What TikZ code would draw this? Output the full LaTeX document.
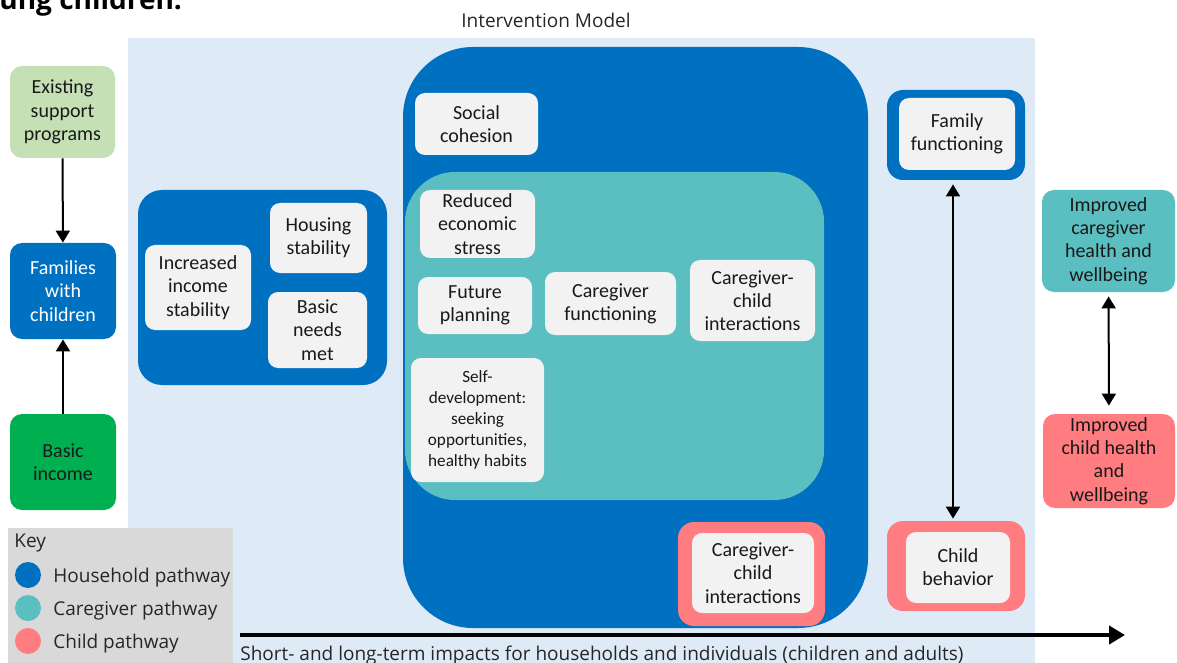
\documentclass[tikz,border=0pt]{standalone}
\usepackage{fontspec}
\setmainfont{Carlito}
\newfontfamily\uifont{Open Sans}
\usetikzlibrary{positioning,arrows.meta}

\definecolor{hhblue}{HTML}{0070C0}
\definecolor{cgteal}{HTML}{5BBEC0}
\definecolor{chpink}{HTML}{FF7C80}
\definecolor{cellgray}{HTML}{F2F2F2}
\definecolor{keygray}{HTML}{D9D9D9}
\definecolor{modelbg}{HTML}{DEEBF7}
\definecolor{palegreen}{HTML}{C5E0B4}
\definecolor{incgreen}{HTML}{00B050}

\begin{document}
\begin{tikzpicture}
		[x=0.5pt,y=-0.5pt,
		every node/.style={inner sep=0pt,align=center},
		% a box given by its left, top, right and bottom edge
		area/.style args={#1,#2,#3,#4}{at={({(#1+#3)/2},{(#2+#4)/2})},
			minimum width={(#3-#1)*0.5pt},minimum height={(#4-#2)*0.5pt}},
		boxtext/.style={text=black!90,font=\fontsize{10}{11.6}\selectfont},
		cell/.style={boxtext,fill=cellgray,rounded corners=5pt},
		small cell/.style={cell,font=\fontsize{8.6}{10.5}\selectfont},
		outcome/.style={boxtext,fill=#1,rounded corners=6pt},
		frame/.style={fill=#1,rounded corners=8pt},
		pathway/.style={fill=hhblue,rounded corners=#1},
		ui/.style={font=\uifont\fontsize{9.5}{11}\selectfont,text=black!85},
		link/.style={line width=1pt,-{Triangle[length=6pt,width=7pt]}},
		twoway/.style={line width=1pt,{Triangle[length=6pt,width=7pt]}-{Triangle[length=6pt,width=7pt]}}]
		\useasboundingbox (0,0) rectangle (1177,663);
		\clip (0,0) rectangle (1177,663);
		% heading cut by the page edge
		\node[anchor=base west,font=\uifont\bfseries\fontsize{14}{16}\selectfont] (head) at (-1,10) {ung children.};
		\fill[modelbg] (128,38) rectangle (1035,663);
		\node[ui] (model) at (546,20) {Intervention Model};
		% inputs on the left
		\node[outcome=palegreen,area={10,66,115,158}] (exist) {Existing\\support\\programs};
		\node[outcome=hhblue,text=white,area={10,243,116,339}] (fam) {Families\\with\\children};
		\node[outcome=incgreen,area={10,414,116,510}] (basic) {Basic\\income};
		\draw[link] (exist) -- (fam);
		\draw[link] (basic) -- (fam);
		% household pathway
		\node[pathway=12pt,area={138,190,387,385}] (hh) {};
		\node[cell,area={145,245,251,330}] (inc) {Increased\\income\\stability};
		\node[cell,area={270,203,367,273}] (hous) {Housing\\stability};
		\node[cell,area={268,292,367,368}] (needs) {Basic\\needs\\met};
		% household, caregiver and child pathways in one block
		\node[pathway=35pt,area={403,47,868,628}] (core) {};
		\node[cell,area={415,93,538,155}] (social) {Social\\cohesion};
		\node[fill=cgteal,rounded corners=25pt,area={405,172,824,500}] (cg) {};
		\node[cell,area={420,190,535,258}] (stress) {Reduced\\economic\\stress};
		\node[cell,area={418,277,532,334}] (future) {Future\\planning};
		\node[cell,area={545,272,676,335}] (cgfun) {Caregiver\\functioning};
		\node[cell,area={690,260,815,341}] (cgint) {Caregiver-\\child\\interactions};
		\node[small cell,area={411,358,544,482}] (selfdev) {Self-\\development:\\seeking\\opportunities,\\healthy habits};
		\node[frame=chpink,area={678,522,825,626}] (cciframe) {};
		\node[cell,area={692,533,814,613}] (cci) {Caregiver-\\child\\interactions};
		% family and child level
		\node[frame=hhblue,area={887,90,1025,180}] (famframe) {};
		\node[cell,area={899,98,1015,170}] (famfun) {Family\\functioning};
		\node[frame=chpink,area={887,521,1025,611}] (behavframe) {};
		\node[cell,area={906,532,1010,603}] (behav) {Child\\behavior};
		\draw[twoway,shorten <=2pt,shorten >=1pt] ([xshift=-1.5pt]famframe.south) -- ([xshift=-1.5pt]behavframe.north);
		% long-term outcomes
		\node[outcome=cgteal,area={1042,190,1175,292}] (impcg) {Improved\\caregiver\\health and\\wellbeing};
		\node[outcome=chpink,area={1043,414,1175,508}] (impch) {Improved\\child health\\and\\wellbeing};
		\draw[twoway,shorten <=2pt,shorten >=4pt] (impcg) -- (impch);
		% key
		\node[fill=keygray,area={8,528,233,663}] (key) {};
		\node[ui,anchor=west] (keyhead) at (14,543) {Key};
		\node[circle,fill=hhblue,minimum size=13pt] (dothh) at (28,575) {};
		\node[circle,fill=cgteal,minimum size=13pt] (dotcg) at (28,608) {};
		\node[circle,fill=chpink,minimum size=13pt] (dotch) at (28,641) {};
		\node[ui,anchor=west] (lblhh) at (53,578) {Household pathway};
		\node[ui,anchor=west] (lblcg) at (53,611) {Caregiver pathway};
		\node[ui,anchor=west] (lblch) at (53,644) {Child pathway};
		% time axis
		\coordinate (t0) at (240,635);
		\coordinate (t1) at (1125,635);
		\draw[line width=2pt,-{Triangle[length=8pt,width=9pt]}] (t0) -- (t1);
		\node[ui,anchor=west] (impact) at (240,656) {Short- and long-term impacts for households and individuals (children and adults)};
\end{tikzpicture}
\end{document}
